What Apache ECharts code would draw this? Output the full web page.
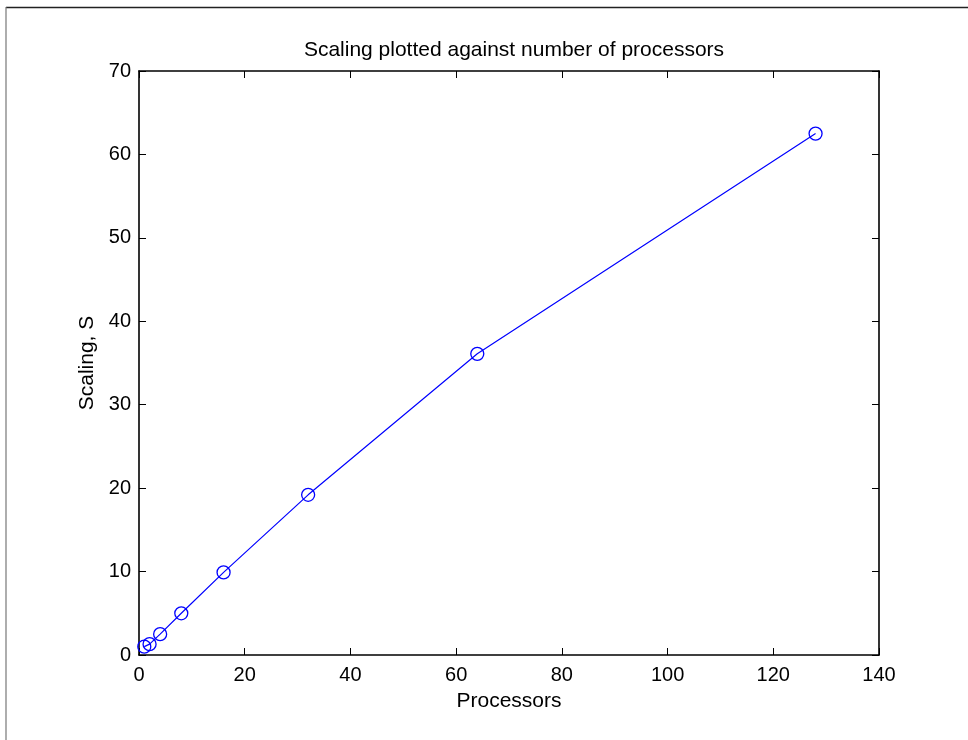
<!DOCTYPE html>
<html>
<head>
<meta charset="utf-8">
<title>Scaling plotted against number of processors</title>
<script src="https://cdn.jsdelivr.net/npm/echarts@6/dist/echarts.min.js"></script>
<style>
  html, body { margin: 0; padding: 0; background: #fff; }
  #chart { width: 968px; height: 740px; }
</style>
</head>
<body>
<div id="chart"></div>
<script>
// Processor counts and measured scaling factor S
var processors = [1, 2, 4, 8, 16, 32, 64, 128];
var scaling = [1.0, 1.3, 2.5, 5.0, 9.9, 19.2, 36.1, 62.5];

// Axis ranges and tick steps
var xRange = [0, 140], xStep = 20;
var yRange = [0, 70], yStep = 10;

var titleText = 'Scaling plotted against number of processors';
var xLabel = 'Processors';
var yLabel = 'Scaling, S';

var FONT = '"Liberation Sans", Arial, Helvetica, sans-serif';
var points = processors.map(function (p, i) { return [p, scaling[i]]; });

var chart = echarts.init(document.getElementById('chart'), null, { renderer: 'canvas' });

function frameAxis(extra) {
  var base = {
    type: 'value',
    axisLine: { show: true, onZero: false, lineStyle: { color: '#000', width: 1.6 } },
    axisTick: { show: true, inside: true, length: 7, lineStyle: { color: '#000', width: 1 } },
    splitLine: { show: false },
    axisLabel: { show: true, color: '#000', fontFamily: FONT, fontSize: 20 }
  };
  return Object.assign(base, extra);
}

chart.setOption({
  animation: false,
  backgroundColor: '#fff',
  title: {
    text: titleText,
    left: 509, top: 35, textAlign: 'center',
    textStyle: { fontFamily: FONT, fontSize: 21, fontWeight: 'normal', color: '#000' }
  },
  grid: { left: 139, top: 71, right: 89, bottom: 85, containLabel: false },
  xAxis: [
    frameAxis({
      position: 'bottom', min: xRange[0], max: xRange[1], interval: xStep,
      name: xLabel, nameLocation: 'middle', nameGap: 36,
      nameTextStyle: { fontFamily: FONT, fontSize: 21, color: '#000' },
      axisLabel: { show: true, color: '#000', fontFamily: FONT, fontSize: 20, margin: 10 }
    }),
    frameAxis({
      position: 'top', min: xRange[0], max: xRange[1], interval: xStep,
      axisLabel: { show: false }
    })
  ],
  yAxis: [
    frameAxis({
      position: 'left', min: yRange[0], max: yRange[1], interval: yStep,
      name: yLabel, nameLocation: 'middle', nameGap: 40, nameRotate: 90,
      nameTextStyle: { fontFamily: FONT, fontSize: 21, color: '#000' },
      axisLabel: { show: true, color: '#000', fontFamily: FONT, fontSize: 20, margin: 8 }
    }),
    frameAxis({
      position: 'right', min: yRange[0], max: yRange[1], interval: yStep,
      axisLabel: { show: false }
    })
  ],
  graphic: [
    // outer figure frame edges
    { type: 'line', shape: { x1: 6, y1: 7.5, x2: 968, y2: 7.5 }, style: { stroke: '#222', lineWidth: 1.5 }, silent: true },
    { type: 'line', shape: { x1: 6, y1: 7, x2: 6, y2: 740 }, style: { stroke: '#777', lineWidth: 1.2 }, silent: true }
  ],
  series: [{
    type: 'line',
    data: points,
    xAxisIndex: 0,
    yAxisIndex: 0,
    color: '#0000ff',
    symbol: 'circle',
    symbolSize: 13,
    showAllSymbol: true,
    lineStyle: { color: '#0000ff', width: 1.2 },
    itemStyle: { color: 'rgba(0,0,0,0)', borderColor: '#0000ff', borderWidth: 1.3 },
    z: 5
  }]
});
</script>
</body>
</html>
